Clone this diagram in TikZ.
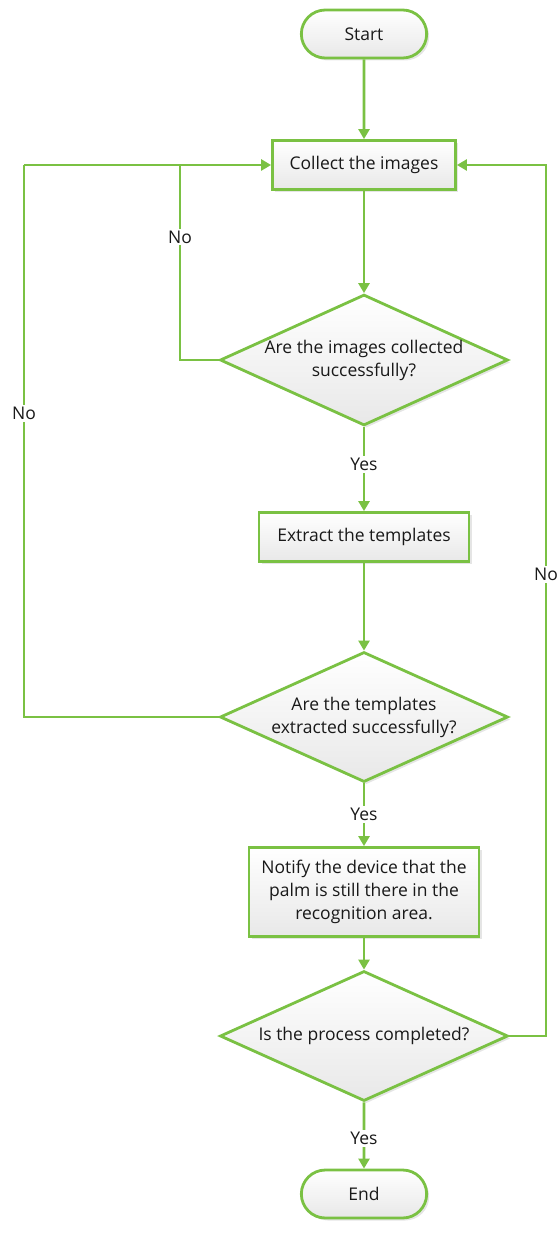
\documentclass[tikz,border=0pt]{standalone}
\usepackage{fontspec}
\setmainfont{Open Sans}
\usetikzlibrary{shapes.geometric,shapes.misc,arrows.meta,shadows}
\definecolor{flowgreen}{RGB}{122,193,67}
\definecolor{fillbot}{RGB}{232,232,232}
\tikzset{
  x=1pt,y=-1pt,
  every node/.style={font=\fontsize{17.5}{23}\selectfont, text=black!90},
  boxbase/.style={draw=flowgreen, line width=2.8pt, top color=white, bottom color=fillbot,
    drop shadow={shadow xshift=2.5pt, shadow yshift=-2.5pt, opacity=0.25, fill=black!40}},
  terminal/.style={boxbase, rounded rectangle, minimum width=132pt, minimum height=48pt},
  process/.style={boxbase, rectangle, minimum height=49pt, align=center},
  decision/.style={boxbase, diamond, aspect=2.2, minimum width=288pt, minimum height=130pt, align=center, inner sep=0pt},
  flow/.style={draw=flowgreen, line width=2.8pt, -{Triangle[length=10pt,width=11pt]}},
  plainflow/.style={draw=flowgreen, line width=2.8pt},
  lbl/.style={fill=white, inner sep=2pt, font=\fontsize{17.5}{21}\selectfont}
}
\begin{document}
\begin{tikzpicture}
\useasboundingbox (0,0) rectangle (557,1246);
\node[terminal] (start) at (364,34) {Start};
\node[process, minimum width=183pt] (collect) at (364,165) {Collect the images};
\node[decision] (d1) at (364,360) {Are the images collected\\successfully?};
\node[process, minimum width=210pt] (extract) at (364,537) {Extract the templates};
\node[decision] (d2) at (364,717) {Are the templates\\extracted successfully?};
\node[process, minimum width=230pt, minimum height=89pt] (notify) at (364,892) {Notify the device that the\\palm is still there in the\\recognition area.};
\node[decision] (d3) at (364,1036) {Is the process completed?};
\node[terminal] (end) at (364,1194) {End};

\coordinate (j1) at (180,165);
\coordinate (c1) at (180,360);
\coordinate (c2a) at (24,717);
\coordinate (c2b) at (24,165);
\coordinate (c3a) at (546,1036);
\coordinate (c3b) at (546,165);

\draw[flow] (start) -- (collect);
\draw[flow] (collect) -- (d1);
\draw[flow] (d1) -- node[lbl, pos=0.45] {Yes} (extract);
\draw[flow] (extract) -- (d2);
\draw[flow] (d2) -- node[lbl, pos=0.5] {Yes} (notify);
\draw[flow] (notify) -- (d3);
\draw[flow] (d3) -- node[lbl, pos=0.55] {Yes} (end);

\draw[plainflow] (d1.west) -- (c1) -- node[lbl, pos=0.63] {No} (j1);
\draw[flow] (c2b) -- (collect.west);
\draw[plainflow] (d2.west) -- (c2a) -- node[lbl, pos=0.55] {No} (c2b);
\draw[flow] (d3.east) -- (c3a) -- node[lbl, pos=0.53] {No} (c3b) -- (collect.east);
\end{tikzpicture}
\end{document}
